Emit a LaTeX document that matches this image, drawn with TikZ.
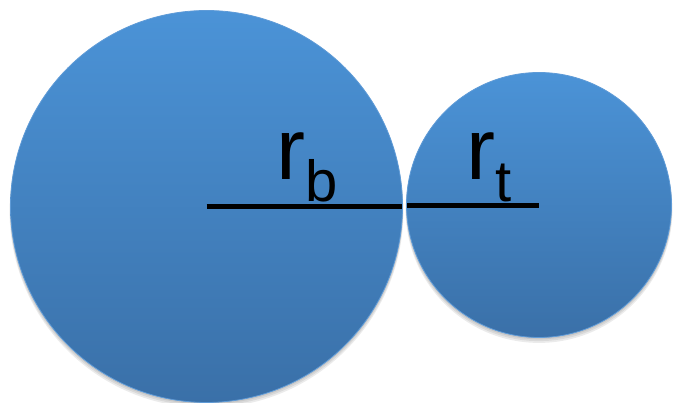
\documentclass[tikz,border=0pt]{standalone}
\usepackage{fontspec}
\setmainfont{Liberation Sans}
\definecolor{blueTop}{RGB}{75,147,215}
\definecolor{blueBot}{RGB}{58,112,168}
\definecolor{blueEdge}{RGB}{95,155,215}
\tikzset{
  ball/.style={circle, inner sep=0pt, top color=blueTop, bottom color=blueBot, draw=blueEdge, line width=0.8pt},
  ballshadow/.style={fill=black, opacity=0.08},
  radius line/.style={line width=5pt, black},
  lbl/.style={inner sep=0pt, anchor=base west, font=\fontsize{87}{87}\selectfont},
}
\newcommand{\subtxt}[1]{\raisebox{-22pt}{\fontsize{58}{58}\selectfont #1}}
\begin{document}
\begin{tikzpicture}[x=1pt,y=1pt]
\useasboundingbox (0,0) rectangle (673,403);
% shadows
\foreach \d/\e in {1/1.5,2/3,3/4.5}{
  \fill[ballshadow] (206.5,196.5-\e) circle (196+\d*0.3);
  \fill[ballshadow] (539,198-\e) circle (132.5+\d*0.3);
}
\node[ball, minimum size=392pt] (big) at (206.5,196.5) {};
\node[ball, minimum size=265pt] (small) at (539,198) {};
\coordinate (bigrim) at (402,196.3);
\coordinate (smallrim) at (407,197.3);
\coordinate (smallc) at (539,197.3);
\draw[radius line] (big.center |- bigrim) -- (bigrim);
\draw[radius line] (smallrim) -- (smallc);
\node[lbl] (rb) at (276,223) {r\subtxt{b}};
\node[lbl] (rt) at (466,223) {r\subtxt{t}};
\end{tikzpicture}
\end{document}
